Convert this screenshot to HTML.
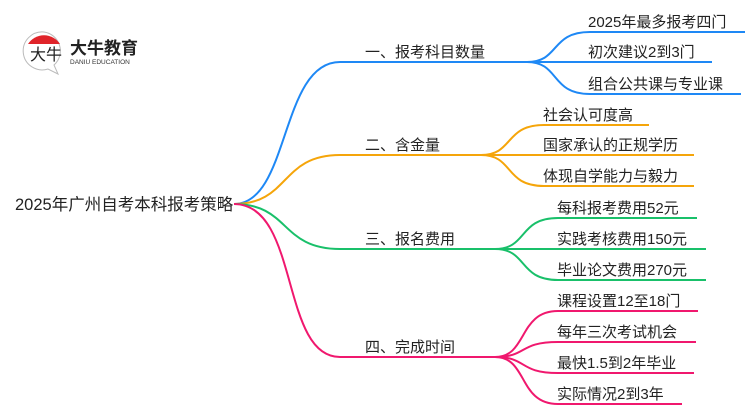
<!DOCTYPE html>
<html><head><meta charset="utf-8"><style>
body{margin:0;width:750px;height:410px;background:#fff;overflow:hidden}
svg{display:block}
text{font-family:"Liberation Sans","Noto Sans CJK SC",sans-serif;font-size:15px;fill:#222}
</style></head><body>
<svg width="750" height="410" viewBox="0 0 750 410">
<g fill="none" stroke-width="2">
<g stroke="#1e88f5">
<path d="M234 204 C290 204 280 62 340 62 L527 62"/>
<path d="M527 62 C560 62 550 32 590 32 L745 32"/>
<path d="M527 62 L712 62"/>
<path d="M527 62 C560 62 550 94 590 94 L741 94"/>
</g>
<g stroke="#f5a50a">
<path d="M234 204 C290 204 280 155 340 155 L481 155"/>
<path d="M481 155 C514 155 504 125 544 125 L649 125"/>
<path d="M481 155 L694 155"/>
<path d="M481 155 C514 155 504 186 544 186 L694 186"/>
</g>
<g stroke="#19c06a">
<path d="M234 204 C290 204 280 249 340 249 L495 249"/>
<path d="M495 249 C528 249 518 218 558 218 L697 218"/>
<path d="M495 249 L706 249"/>
<path d="M495 249 C528 249 518 280 558 280 L706 280"/>
</g>
<g stroke="#f0186e">
<path d="M234 204 C300 204 280 357 340 357 L495 357"/>
<path d="M495 357 C528 357 518 311 558 311 L698 311"/>
<path d="M495 357 C528 357 518 342 558 342 L696 342"/>
<path d="M495 357 C528 357 518 373 558 373 L694 373"/>
<path d="M495 357 C528 357 518 404 558 404 L682 404"/>
</g>
</g>
<g transform="translate(24,30)">
<path d="M20 2 A19 19 0 1 0 24 39 L34 44 L30 35 A19 19 0 0 0 20 2Z" fill="#fff" stroke="#bbb" stroke-width="1"/>
<path d="M4 14 A19 19 0 0 1 36 14 Z" fill="#e0242a"/>
<text x="6" y="30" style="font-size:16px">大牛</text>
<text x="46" y="24" style="font-size:17px;font-weight:bold;fill:#222">大牛教育</text>
<text x="46" y="34" style="font-size:6.5px;fill:#333">DANIU EDUCATION</text>
</g>
<text x="15" y="210" style="font-size:16.5px">2025年广州自考本科报考策略</text>
<text x="365" y="57">一、报考科目数量</text>
<text x="365" y="150">二、含金量</text>
<text x="365" y="244">三、报名费用</text>
<text x="365" y="352">四、完成时间</text>
<text x="588" y="27">2025年最多报考四门</text>
<text x="588" y="57">初次建议2到3门</text>
<text x="588" y="89">组合公共课与专业课</text>
<text x="543" y="120">社会认可度高</text>
<text x="543" y="150">国家承认的正规学历</text>
<text x="543" y="181">体现自学能力与毅力</text>
<text x="557" y="213">每科报考费用52元</text>
<text x="557" y="244">实践考核费用150元</text>
<text x="557" y="275">毕业论文费用270元</text>
<text x="557" y="306">课程设置12至18门</text>
<text x="557" y="337">每年三次考试机会</text>
<text x="557" y="368">最快1.5到2年毕业</text>
<text x="557" y="399">实际情况2到3年</text>
</svg>
</body></html>
